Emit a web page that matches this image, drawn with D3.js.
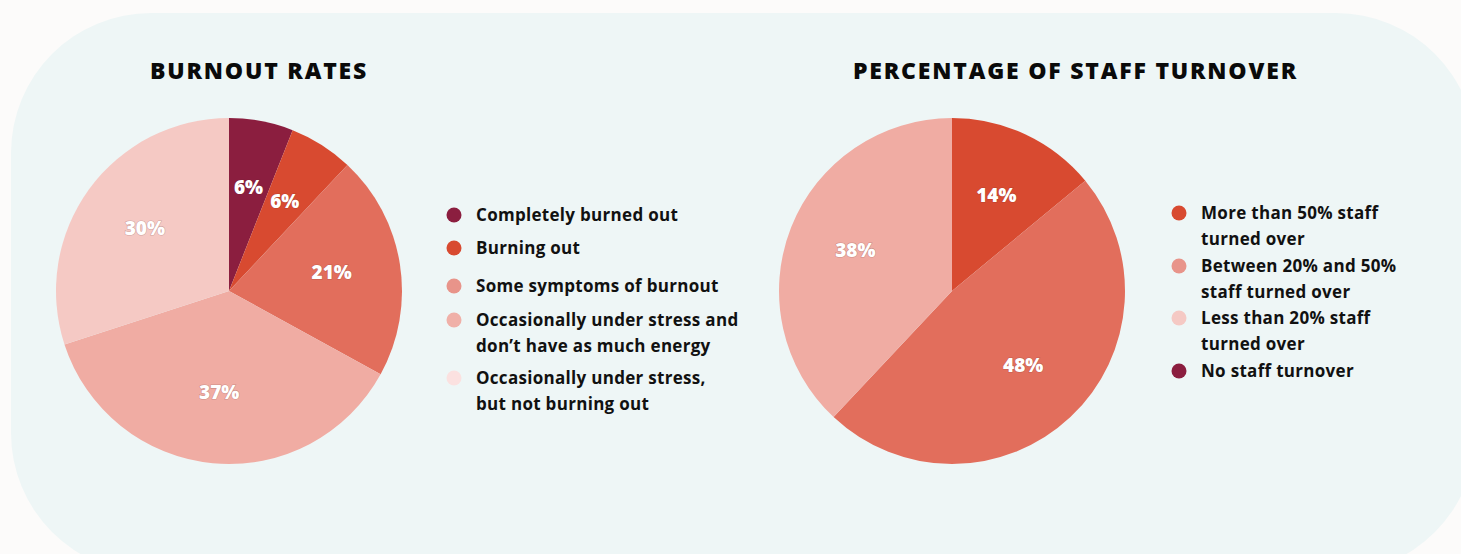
<!DOCTYPE html>
<html>
<head>
<meta charset="utf-8">
<script src="https://cdn.jsdelivr.net/npm/d3@7"></script>
<style>
  body { margin: 0; background: #fcfbfa; }
  svg text { font-family: "Open Sans", "Lato", sans-serif; }
</style>
</head>
<body>
<div class="chart"></div>
<script>
// burnout pie
var burnoutLabels = ["Completely burned out", "Burning out", "Some symptoms of burnout",
    "Occasionally under stress and|don\u2019t have as much energy", "Occasionally under stress,|but not burning out"];
var burnoutValues = [6, 6, 21, 37, 30];
var burnoutFill = ["#8b1e3f", "#d84a30", "#e26e5c", "#f0aca3", "#f5c9c4"];
var burnoutLegendFill = ["#8b1e3f", "#d84a30", "#e8948a", "#f0b0a8", "#fbe1e0"];

// turnover pie (last category has 0%)
var turnoverLabels = ["More than 50% staff|turned over", "Between 20% and 50%|staff turned over",
    "Less than 20% staff|turned over", "No staff turnover"];
var turnoverValues = [14, 48, 38, 0];
var turnoverFill = ["#d84a30", "#e26e5c", "#f0aca3", "#8b1e3f"];
var turnoverLegendFill = ["#d84a30", "#e8948a", "#f5c9c4", "#8b1e3f"];

var svgWidth = 1461;
var svgHeight = 554;

var svg = d3.select(".chart")
    .append("svg")
    .attr("width", svgWidth)
    .attr("height", svgHeight);

// panel background
svg.append("rect")
    .attr("x", 11)
    .attr("y", 13)
    .attr("width", 1465)
    .attr("height", 560)
    .attr("rx", 140)
    .attr("fill", "#eef6f6");

var radius = 173;
var pie = d3.pie().sort(null).value(d => d);
var arc = d3.arc().innerRadius(0).outerRadius(radius);
var labelArc = d3.arc().innerRadius(104).outerRadius(104);

function drawPie(cx, cy, values, fills) {
    var g = svg.append("g").attr("transform", `translate(${cx}, ${cy})`);
    var arcs = pie(values).filter(d => d.value > 0);
    g.selectAll("path")
        .data(arcs)
        .enter()
        .append("path")
        .attr("d", arc)
        .attr("fill", d => fills[d.index]);
    g.selectAll("text")
        .data(arcs)
        .enter()
        .append("text")
        .attr("transform", d => `translate(${labelArc.centroid(d)})`)
        .attr("text-anchor", "middle")
        .attr("dy", "0.25em")
        .style("fill", "white")
        .style("font-size", "19px")
        .style("font-weight", "800")
        .style("stroke", "rgba(90,40,40,0.25)")
        .style("stroke-width", "1.2px")
        .style("paint-order", "stroke")
        .text(d => d.value + "%");
}

function drawLegend(x, rows, labels, fills) {
    var g = svg.append("g");
    labels.forEach(function(label, i) {
        var lines = label.split("|");
        g.append("circle")
            .attr("cx", x)
            .attr("cy", rows[i] - 6)
            .attr("r", 7.5)
            .attr("fill", fills[i]);
        lines.forEach(function(line, j) {
            g.append("text")
                .attr("x", x + 22)
                .attr("y", rows[i] + j * 26)
                .style("font-size", "17px")
                .style("font-weight", "700")
                .style("letter-spacing", "0.3px")
                .style("fill", "#111")
                .text(line);
        });
    });
}

function title(x, text) {
    svg.append("text")
        .attr("x", x)
        .attr("y", 79)
        .style("font-size", "23px")
        .style("font-weight", "800")
        .style("letter-spacing", "1.8px")
        .style("fill", "#0a0a0a")
        .text(text);
}

title(150, "BURNOUT RATES");
title(853, "PERCENTAGE OF STAFF TURNOVER");

drawPie(229, 291, burnoutValues, burnoutFill);
drawPie(952, 291, turnoverValues, turnoverFill);

drawLegend(454, [221, 254, 292, 326, 384], burnoutLabels, burnoutLegendFill);
drawLegend(1179, [219, 272, 324, 377], turnoverLabels, turnoverLegendFill);
</script>
</body>
</html>
